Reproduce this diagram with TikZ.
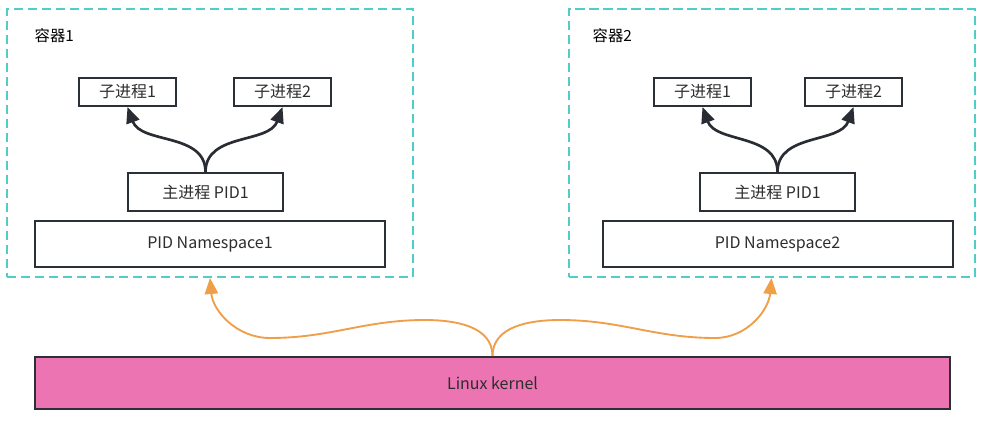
\documentclass[tikz,border=0pt]{standalone}
\usepackage{fontspec}
\setmainfont{Noto Sans CJK SC}
\usepackage{xcolor}
\usetikzlibrary{arrows.meta}

\definecolor{boxline}{RGB}{43,47,54}
\definecolor{textgrey}{RGB}{45,45,45}
\definecolor{tealdash}{RGB}{80,205,200}
\definecolor{linkorange}{RGB}{240,158,72}
\definecolor{kernelpink}{RGB}{236,116,178}

\tikzset{
  container/.style={draw=tealdash, line width=1.5pt, dash pattern=on 7pt off 3.5pt,
    minimum width=304.5pt, minimum height=201pt},
  procbox/.style={draw=boxline, line width=1.5pt, fill=white, text=textgrey, inner sep=0pt},
  spawn/.style={draw=boxline!95!black, line width=2pt, -{Triangle[length=12pt,width=10pt]}},
  share/.style={draw=linkorange, line width=1.4pt, -{Triangle[length=12pt,width=10pt]}}
}

\begin{document}
\begin{tikzpicture}[x=0.75pt, y=0.75pt, font=\fontsize{12pt}{14pt}\selectfont]
  \useasboundingbox (0,0) rectangle (983,-421);

  % Container outlines
  \node[container] (box1) at (210,-143) {};
  \node[container] (box2) at (771.5,-143) {};
  \node[anchor=west, text=black, font=\fontsize{11.5pt}{13pt}\selectfont] (name1) at (30,-36) {容器1};
  \node[anchor=west, text=black, font=\fontsize{11.5pt}{13pt}\selectfont] (name2) at (588,-36) {容器2};

  % Container 1
  \node[procbox, minimum width=72.75pt, minimum height=21pt] (sub11) at (127.5,-92) {子进程1};
  \node[procbox, minimum width=72.75pt, minimum height=21pt] (sub12) at (282.5,-92) {子进程2};
  \node[procbox, minimum width=116pt, minimum height=28.5pt] (init1) at (205.5,-192) {主进程 PID1};
  \node[procbox, minimum width=262.5pt, minimum height=34.5pt] (ns1) at (210,-244) {PID Namespace1};

  % Container 2
  \node[procbox, minimum width=72.75pt, minimum height=21pt] (sub21) at (702.5,-92) {子进程1};
  \node[procbox, minimum width=72.75pt, minimum height=21pt] (sub22) at (853.5,-92) {子进程2};
  \node[procbox, minimum width=116pt, minimum height=28.5pt] (init2) at (777.5,-192) {主进程 PID1};
  \node[procbox, minimum width=262.5pt, minimum height=34.5pt] (ns2) at (777.5,-244) {PID Namespace2};

  % Kernel
  \node[procbox, fill=kernelpink, minimum width=686pt, minimum height=39pt] (kernel) at (492.5,-383) {Linux kernel};

  % Child processes
  \draw[spawn] (init1.north) to[out=90, in=-70] (sub11.south);
  \draw[spawn] (init1.north) to[out=90, in=-110] (sub12.south);
  \draw[spawn] (init2.north) to[out=90, in=-70] (sub21.south);
  \draw[spawn] (init2.north) to[out=90, in=-110] (sub22.south);

  % Shared kernel
  \draw[share] (kernel.north) to[out=90, in=0] (425,-320) to[out=180, in=0] (270,-338)
    to[out=180, in=-85] (box1.south);
  \draw[share] (kernel.north) to[out=90, in=180] (560,-320) to[out=0, in=180] (715,-338)
    to[out=0, in=-95] (box2.south);
\end{tikzpicture}
\end{document}
